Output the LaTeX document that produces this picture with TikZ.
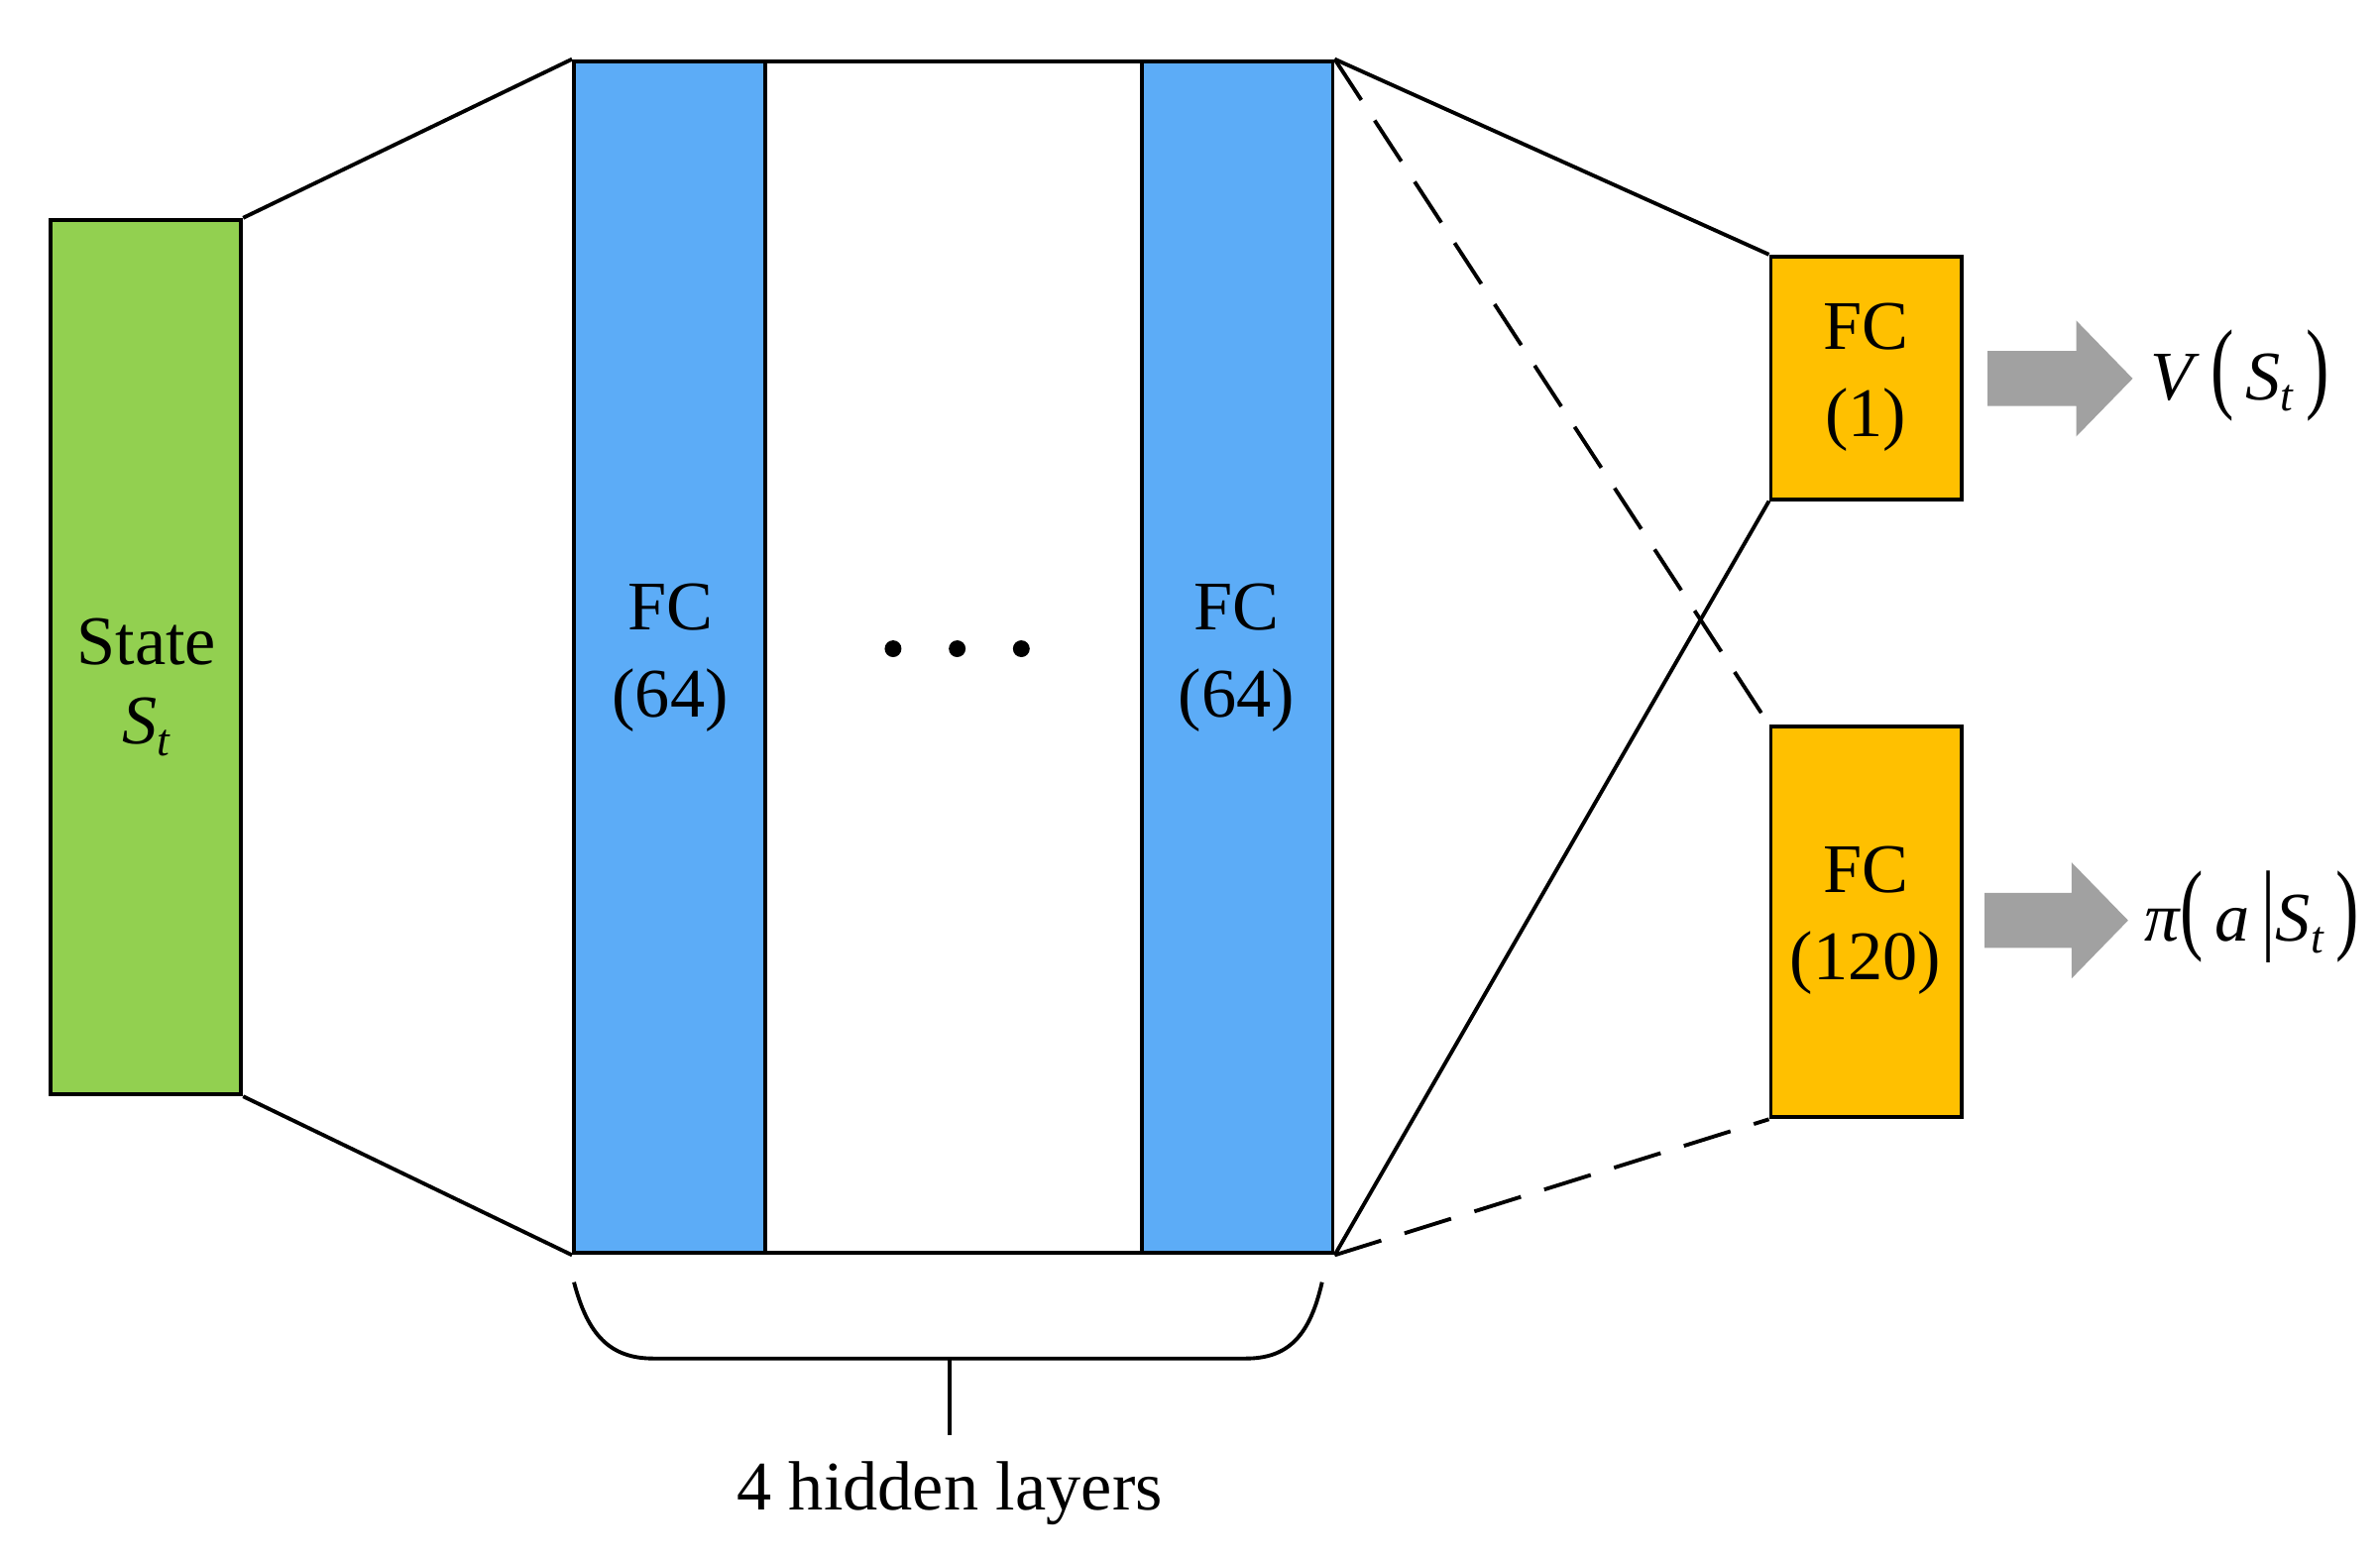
\documentclass[tikz,border=0pt]{standalone}
\usepackage{fontspec}
\setmainfont{Liberation Serif}
\begin{document}
\begin{tikzpicture}[x=0.0154cm,y=-0.0154cm,
  box/.style={draw,line width=1.1pt,inner sep=0pt},
  lbl/.style={font=\fontsize{20}{25}\selectfont,align=center},
  con/.style={line width=1.1pt},
  garrow/.style={fill=black!37,draw=none}]
\useasboundingbox (0,0) rectangle (1559,1023);
\fill[white] (0,0) rectangle (1559,1023);
\definecolor{gr}{HTML}{92D050}
\definecolor{bl}{HTML}{5CACF7}
\definecolor{yl}{HTML}{FFC000}
\newcommand{\sbt}{\raisebox{-0.35ex}{\fontsize{13}{13}\selectfont\textit{t}}}
\newcommand{\bigpar}[1]{\scalebox{1}[1.45]{#1}}
\node[box,fill=gr,minimum width=125*0.0154cm,minimum height=573*0.0154cm] (s) at (95.5,430.5) {};
\node[box,fill=white,minimum width=497*0.0154cm,minimum height=781*0.0154cm] (h) at (624.5,430.5) {};
\node[box,fill=bl,minimum width=125*0.0154cm,minimum height=781*0.0154cm] (b1) at (438.5,430.5) {};
\node[box,fill=bl,minimum width=125*0.0154cm,minimum height=781*0.0154cm] (b2) at (810.5,430.5) {};
\node[box,fill=yl,minimum width=125*0.0154cm,minimum height=159*0.0154cm] (y1) at (1222.5,247.5) {};
\node[box,fill=yl,minimum width=125*0.0154cm,minimum height=256*0.0154cm] (y2) at (1222.5,604) {};
\draw[con] (s.north east) -- (h.north west);
\draw[con] (s.south east) -- (h.south west);
\draw[con] (h.north east) -- (y1.north west);
\draw[con] (h.south east) -- (y1.south west);
\draw[con,dashed,dash pattern=on 14pt off 7pt] (h.north east) -- (y2.north west);
\draw[con,dashed,dash pattern=on 14pt off 7pt] (h.south east) -- (y2.south west);
\node[lbl] (st) at (96,450) {State\\[-2pt]\textit{S}\sbt};
\node[lbl] (l1) at (439,431) {FC\\(64)};
\node[lbl] (l2) at (810,431) {FC\\(64)};
\node[lbl] (l3) at (1222,247) {FC\\(1)};
\node[lbl] (l4) at (1222,603) {FC\\(120)};
\foreach \i/\xx in {1/585,2/627,3/669} \fill (\xx,425) circle (5.5) coordinate (d\i);
\fill[garrow] (1302,230) -- (1360,230) -- (1360,210) -- (1397,248) -- (1360,286) -- (1360,266) -- (1302,266) -- cycle;
\fill[garrow] (1300,585) -- (1357,585) -- (1357,565) -- (1394,603) -- (1357,641) -- (1357,621) -- (1300,621) -- cycle;
\node[lbl,anchor=west,inner sep=0pt] (v) at (1408,246) {\textit{V}\,\bigpar{(}\,\textit{S}\sbt\,\bigpar{)}};
\node[lbl,anchor=west,inner sep=0pt] (p) at (1404,601) {\textit{π}\bigpar{(}\,\textit{a}\,\bigpar{|}\textit{S}\sbt\,\bigpar{)}};
\coordinate (ba) at (376,840);
\coordinate (bb) at (866,840);
\coordinate (bm) at (622,890);
\coordinate (bs) at (622,940);
\draw[con] (ba) .. controls (385,875) and (400,890) .. (428,890) -- (816,890) .. controls (844,890) and (858,875) .. (bb);
\draw[con] (bm) -- (bs);
\node[lbl] (hl) at (622,978) {4 hidden layers};
\end{tikzpicture}
\end{document}
